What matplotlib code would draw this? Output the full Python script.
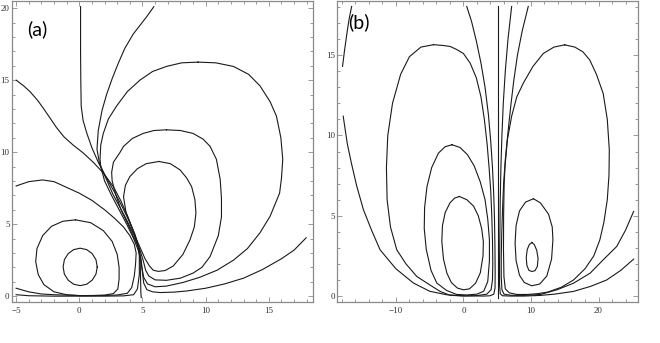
import matplotlib
matplotlib.use("Agg")
import matplotlib.pyplot as plt
from matplotlib.ticker import MultipleLocator

# ---- panel (a): contour lines (data coords) ----
a_in_x = [1.42, 1.32, 1.02, 0.59, 0.07, -0.45, -0.88, -1.18, -1.28, -1.18, -0.88, -0.45, 0.07, 0.59, 1.02, 1.32, 1.42]
a_in_y = [2.03, 2.53, 2.95, 3.23, 3.33, 3.23, 2.95, 2.53, 2.03, 1.53, 1.11, 0.83, 0.73, 0.83, 1.11, 1.53, 2.03]

a_d_x = [-0.3, 0.9, 1.9, 2.6, 3.0, 3.15, 3.15, 3.05, 2.7, 2.0, 1.0, 0.0, -1.0, -2.0, -2.8, -3.25, -3.45, -3.35, -2.9, -2.2, -1.3, -0.3]
a_d_y = [5.3, 5.1, 4.55, 3.8, 2.9, 2.0, 1.2, 0.5, 0.18, 0.07, 0.04, 0.04, 0.1, 0.3, 0.8, 1.5, 2.4, 3.3, 4.2, 4.85, 5.2, 5.3]

a_sep_x = [-5.0, -4.0, -2.9, -2.0, -1.0, 0.0, 1.0, 2.0, 2.8, 3.5, 4.0, 4.35, 4.5, 4.45, 4.35, 4.15, 3.8, 3.0, 2.0, 0.0, -2.0, -3.0, -4.0, -5.0]
a_sep_y = [7.65, 7.95, 8.07, 7.95, 7.55, 7.15, 6.65, 6.0, 5.4, 4.8, 4.2, 3.6, 3.0, 2.2, 1.4, 0.6, 0.2, 0.08, 0.05, 0.04, 0.1, 0.15, 0.3, 0.55]

a_left_x = [-5.0, -4.4, -3.9, -3.3, -2.85, -2.3, -1.8, -1.2, -0.5, 0.3, 1.1, 1.9, 2.7, 3.3, 3.8, 4.25, 4.6, 4.75, 4.75, 4.6, 4.3, 3.5, 2.0, 0.0, -2.0, -4.0, -5.0]
a_left_y = [15.0, 14.6, 14.2, 13.6, 13.05, 12.35, 11.7, 11.05, 10.5, 9.95, 9.3, 8.55, 7.6, 6.6, 5.6, 4.6, 3.7, 2.8, 1.5, 0.5, 0.1, 0.02, 0.0, 0.0, 0.0, 0.03, 0.1]

a_vert_x = [0.1, 0.1, 0.12, 0.15, 0.3, 0.6, 1.0, 1.5, 2.1, 2.8, 3.4, 3.95, 4.4, 4.7, 4.82, 4.85, 4.87, 4.9]
a_vert_y = [20.1, 17.0, 15.0, 13.2, 12.2, 11.3, 10.3, 9.3, 8.3, 7.2, 6.2, 5.2, 4.3, 3.4, 2.4, 1.2, 0.3, -0.1]

a_top_x = [5.9, 5.33, 4.8, 4.27, 3.6, 3.1, 2.6, 2.16, 1.8, 1.5, 1.4, 1.6, 2.1, 2.65, 3.2, 3.8, 4.3, 4.7, 4.9, 5.0, 5.1, 5.35, 5.8, 6.4, 7.5, 8.5, 10.0, 11.5, 13.0, 14.5, 16.0, 17.0, 17.95]
a_top_y = [20.1, 19.4, 18.8, 18.2, 17.2, 16.2, 15.1, 14.0, 12.9, 11.5, 10.2, 9.2, 8.2, 7.1, 6.2, 5.2, 4.3, 3.4, 2.5, 1.6, 0.9, 0.45, 0.3, 0.25, 0.28, 0.36, 0.55, 0.85, 1.25, 1.85, 2.6, 3.2, 4.05]

a_r3_x = [9.4, 10.8, 12.2, 13.4, 14.3, 15.1, 15.6, 15.95, 16.1, 16.0, 15.85, 15.1, 14.3, 13.3, 12.2, 10.9, 9.5, 8.2, 6.9, 6.0, 5.4, 5.1, 4.95, 4.75, 4.3, 3.75, 3.15, 2.55, 2.0, 1.7, 1.64, 1.7, 1.9, 2.3, 2.95, 3.8, 4.8, 5.8, 6.9, 8.1, 9.4]
a_r3_y = [16.25, 16.2, 15.95, 15.4, 14.6, 13.5, 12.5, 11.0, 9.5, 8.2, 7.15, 5.55, 4.4, 3.3, 2.5, 1.8, 1.3, 0.95, 0.7, 0.65, 0.85, 1.3, 2.0, 3.0, 4.0, 5.0, 6.0, 7.0, 8.0, 9.0, 9.5, 10.5, 11.3, 12.3, 13.2, 14.2, 15.0, 15.6, 15.95, 16.2, 16.25]

a_r2_x = [6.9, 8.0, 9.0, 9.8, 10.35, 10.85, 11.15, 11.25, 11.25, 11.0, 10.35, 9.7, 9.0, 8.0, 6.9, 6.0, 5.5, 5.25, 5.05, 4.8, 4.35, 3.85, 3.3, 2.9, 2.6, 2.56, 2.7, 3.2, 3.5, 4.2, 5.06, 5.9, 6.9]
a_r2_y = [11.55, 11.5, 11.3, 10.9, 10.4, 9.5, 8.1, 6.8, 5.5, 4.2, 2.75, 2.0, 1.6, 1.25, 1.1, 1.13, 1.4, 1.8, 2.5, 3.2, 4.0, 5.0, 6.0, 7.0, 8.0, 8.6, 9.3, 9.95, 10.4, 10.95, 11.3, 11.5, 11.55]

a_r1_x = [6.3, 7.2, 7.97, 8.5, 8.89, 9.15, 9.23, 9.1, 8.76, 8.2, 7.44, 6.8, 6.25, 5.85, 5.55, 5.2, 4.85, 4.5, 4.1, 3.7, 3.5, 3.65, 4.0, 4.6, 5.3, 6.3]
a_r1_y = [9.35, 9.2, 8.77, 8.2, 7.6, 6.7, 5.76, 4.8, 3.91, 2.9, 2.1, 1.78, 1.72, 1.8, 2.1, 2.6, 3.3, 4.0, 4.9, 5.8, 6.9, 7.7, 8.3, 8.85, 9.2, 9.35]

# ---- panel (b) ----
b_vert_x = [5.1, 5.1]
b_vert_y = [-0.1, 18.03]

b_in_l_x = [-0.6, 0.5, 1.5, 2.2, 2.7, 2.95, 2.9, 2.5, 1.8, 0.9, 0.0, -0.9, -1.8, -2.45, -2.95, -3.2, -3.1, -2.7, -2.0, -1.3, -0.6]
b_in_l_y = [6.2, 6.0, 5.6, 5.0, 4.2, 3.4, 2.5, 1.45, 0.8, 0.45, 0.39, 0.5, 0.85, 1.43, 2.3, 3.4, 4.4, 5.2, 5.8, 6.1, 6.2]

b_mid_l_x = [-1.7, -0.5, 0.6, 1.6, 2.5, 3.2, 3.6, 3.85, 3.85, 3.6, 3.0, 2.0, 0.5, -1.0, -2.5, -3.94, -4.8, -5.5, -5.8, -5.75, -5.4, -4.7, -3.7, -2.7, -1.7]
b_mid_l_y = [9.42, 9.25, 8.8, 8.1, 7.1, 6.0, 4.8, 3.5, 2.2, 0.9, 0.3, 0.12, 0.07, 0.1, 0.35, 0.81, 1.6, 2.9, 4.2, 5.5, 6.8, 8.0, 8.9, 9.3, 9.42]

b_big_l_x = [-4.43, -3.0, -1.97, -1.0, 0.0, 1.0, 1.9, 2.6, 3.1, 3.5, 3.8, 4.05, 4.2, 4.3, 4.35, 4.3, 4.1, 3.47, 2.0, 0.0, -2.0, -3.45, -5.0, -6.9, -8.5, -9.87, -10.8, -11.3, -11.4, -11.2, -10.5, -9.3, -8.0, -6.3, -4.43]
b_big_l_y = [15.65, 15.6, 15.54, 15.35, 15.1, 14.5, 13.6, 12.4, 11.0, 9.5, 8.0, 6.5, 5.0, 3.5, 2.0, 1.0, 0.4, 0.12, 0.03, 0.0, 0.05, 0.29, 0.7, 1.22, 2.0, 2.88, 4.3, 6.0, 8.0, 10.0, 12.0, 13.8, 14.9, 15.5, 15.65]

b_out_l_x = [0.49, 1.2, 1.9, 2.6, 3.2, 3.7, 4.05, 4.3, 4.48, 4.6, 4.67, 4.7, 4.68, 4.5, 3.95, 3.0, 0.0, -2.46, -5.0, -7.4, -10.0, -12.34, -13.6, -14.8, -15.8, -16.6, -17.2, -17.8]
b_out_l_y = [18.03, 17.1, 15.9, 14.5, 13.0, 11.3, 9.6, 8.0, 6.4, 4.8, 3.0, 1.5, 0.5, 0.12, 0.02, 0.0, 0.02, 0.08, 0.3, 0.81, 1.7, 2.88, 4.1, 5.37, 6.85, 8.3, 9.5, 11.2]

b_corner_x = [-17.9, -17.6, -17.2, -16.9, -16.55]
b_corner_y = [14.3, 15.3, 16.5, 17.3, 18.03]

b_in_r_x = [10.13, 10.5, 10.85, 11.05, 10.95, 10.6, 10.13, 9.7, 9.4, 9.3, 9.45, 9.75, 10.13]
b_in_r_y = [3.34, 3.2, 2.85, 2.35, 1.85, 1.58, 1.53, 1.6, 1.9, 2.4, 2.9, 3.2, 3.34]

b_mid_r_x = [10.37, 11.4, 12.6, 13.15, 13.25, 13.05, 12.35, 11.3, 10.1, 9.0, 8.3, 7.8, 7.65, 7.8, 8.3, 9.2, 10.37]
b_mid_r_y = [6.06, 5.8, 5.1, 4.3, 3.5, 2.3, 1.25, 0.75, 0.64, 0.85, 1.3, 2.2, 3.3, 4.4, 5.3, 5.85, 6.06]

b_big_r_x = [15.0, 16.5, 17.7, 18.7, 19.7, 20.7, 21.3, 21.6, 21.55, 21.3, 20.8, 20.2, 19.3, 18.0, 16.3, 14.5, 12.5, 11.0, 9.5, 7.9, 6.8, 6.2, 6.0, 5.93, 5.95, 6.03, 6.16, 6.5, 7.14, 7.9, 8.87, 10.3, 11.82, 13.4, 15.0]
b_big_r_y = [15.64, 15.5, 15.2, 14.7, 13.8, 12.6, 11.0, 9.1, 7.5, 6.0, 4.6, 3.5, 2.5, 1.7, 1.0, 0.55, 0.25, 0.15, 0.1, 0.1, 0.2, 0.45, 1.2, 2.88, 5.0, 7.0, 8.07, 9.7, 11.2, 12.4, 13.26, 14.3, 15.1, 15.5, 15.64]

b_r_in_x = [9.6, 8.7, 8.0, 7.45, 7.0, 6.6, 6.2, 5.95, 5.8, 5.68, 5.6, 5.6, 5.7, 6.0, 7.0, 8.9, 11.4, 13.84, 16.3, 18.77, 20.8, 22.7, 24.0, 25.2]
b_r_in_y = [18.03, 16.5, 15.0, 13.4, 11.8, 10.2, 8.5, 7.0, 5.5, 4.0, 2.5, 1.2, 0.4, 0.12, 0.05, 0.04, 0.1, 0.39, 0.8, 1.43, 2.3, 3.09, 4.1, 5.27]

b_r_out_x = [7.14, 6.6, 6.2, 5.9, 5.7, 5.55, 5.45, 5.4, 5.35, 5.35, 5.45, 5.78, 7.0, 9.0, 11.36, 13.5, 16.3, 18.8, 21.2, 23.3, 25.2]
b_r_out_y = [18.03, 16.0, 14.0, 12.0, 10.0, 8.0, 6.0, 4.0, 2.0, 0.7, 0.15, 0.02, 0.0, 0.0, 0.04, 0.12, 0.29, 0.6, 1.0, 1.6, 2.3]

panel_a = [(a_in_x, a_in_y), (a_d_x, a_d_y), (a_sep_x, a_sep_y), (a_left_x, a_left_y),
           (a_vert_x, a_vert_y), (a_top_x, a_top_y), (a_r3_x, a_r3_y), (a_r2_x, a_r2_y),
           (a_r1_x, a_r1_y)]
panel_b = [(b_vert_x, b_vert_y), (b_in_l_x, b_in_l_y), (b_mid_l_x, b_mid_l_y),
           (b_big_l_x, b_big_l_y), (b_out_l_x, b_out_l_y), (b_corner_x, b_corner_y),
           (b_in_r_x, b_in_r_y), (b_mid_r_x, b_mid_r_y), (b_big_r_x, b_big_r_y),
           (b_r_in_x, b_r_in_y), (b_r_out_x, b_r_out_y)]

fig = plt.figure(figsize=(6.6, 3.43), dpi=100)
ax1 = fig.add_axes([0.0177, 0.1181, 0.4561, 0.8776])
ax2 = fig.add_axes([0.5111, 0.1181, 0.4561, 0.8776])


def style(ax, xmaj, xmin, ymaj, ymin):
    for s in ax.spines.values():
        s.set_color('#8a8a8a')
        s.set_linewidth(0.9)
    ax.xaxis.set_major_locator(MultipleLocator(xmaj))
    ax.xaxis.set_minor_locator(MultipleLocator(xmin))
    ax.yaxis.set_major_locator(MultipleLocator(ymaj))
    ax.yaxis.set_minor_locator(MultipleLocator(ymin))
    ax.tick_params(which='both', direction='in', top=True, right=True, color='#8a8a8a', width=0.6)
    ax.tick_params(which='major', length=3.5)
    ax.tick_params(which='minor', length=2)
    ax.tick_params(axis='x', pad=3, labelsize=6.5, labelcolor='#333333')
    ax.tick_params(axis='y', pad=1.5, labelsize=6.5, labelcolor='#333333')
    for t in ax.get_xticklabels() + ax.get_yticklabels():
        t.set_family('Liberation Serif')


for xs, ys in panel_a:
    ax1.plot(xs, ys, color='#1a1a1a', lw=0.8)
ax1.set_xlim(-5.35, 18.47)
ax1.set_ylim(-0.44, 20.46)
style(ax1, 5, 1, 5, 1)
ax1.text(0.084, 0.909, '(a)', transform=ax1.transAxes, fontsize=14, family='Lato',
         ha='center', va='center')

for xs, ys in panel_b:
    ax2.plot(xs, ys, color='#1a1a1a', lw=0.8)
ax2.set_xlim(-18.67, 25.9)
ax2.set_ylim(-0.4, 18.34)
style(ax2, 10, 2, 5, 1)
ax2.text(0.072, 0.930, '(b)', transform=ax2.transAxes, fontsize=14, family='Lato',
         ha='center', va='center')

fig.savefig('out.png', dpi=100)
